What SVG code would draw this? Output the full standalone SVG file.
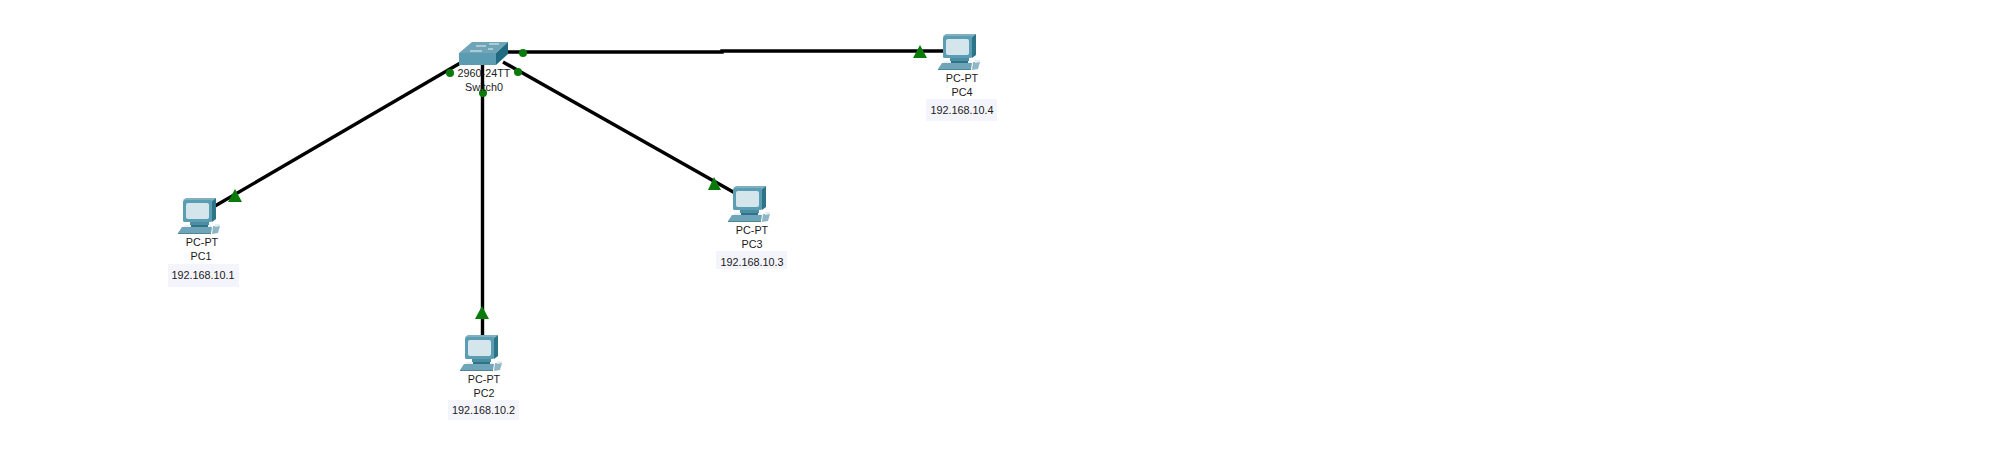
<svg xmlns="http://www.w3.org/2000/svg" width="2001" height="453" viewBox="0 0 2001 453">
<style>
text{font-family:"Liberation Sans",Arial,sans-serif;font-size:10.8px;fill:#1a1a1a;text-anchor:middle}
.link{stroke:#000;stroke-width:3.4;fill:none}
.dot{fill:#0a7a0a}
.tri{fill:#0a7a0a}
.ipbg{fill:#f4f4fc}
</style>
<defs>
<g id="pc">
<polygon points="-5,35 -1,29 29,29 28,35" fill="#6fa5b8"/>
<polygon points="-5,35 28,35 28,36 -5,36" fill="#4f8799"/>
<polygon points="1,27 28,27 28,29 1,29" fill="#e9f1f4"/>
<polygon points="7,23 26,23 26,27 7,27" fill="#4b8da3"/>
<polygon points="8,27 25,27 25,29 8,29" fill="#2f7388"/>
<polygon points="0,2 3,0 33,0 29,3" fill="#7fb0c0"/>
<polygon points="29,3 33,0 33,21 29,24" fill="#2e7489"/>
<rect x="0" y="2" width="29" height="22" rx="1.5" fill="#5b9db2"/>
<rect x="3" y="5" width="23" height="16" rx="2" fill="#d5e5ec"/>
<polygon points="30,28 37,28 35,35 29,36" fill="#8fb6c4"/>
<polygon points="32,26 37,26 37,28 32,29" fill="#e8eef0"/>
</g>
</defs>
<rect width="2001" height="453" fill="#fff"/>
<g id="connectors">
<line class="link" x1="462" y1="62" x2="215" y2="206"/>
<line class="link" x1="482.500" y1="60" x2="482.500" y2="336"/>
<line class="link" x1="503" y1="62" x2="735" y2="193"/>
<polyline class="link" points="505,52 722,52 722,51 945,51"/>
<circle class="dot" cx="450" cy="73" r="4"/>
<circle class="dot" cx="483" cy="93" r="4"/>
<circle class="dot" cx="518" cy="72" r="4"/>
<circle class="dot" cx="523" cy="53" r="4"/>
<polygon class="tri" points="235,189 228,202 242,202"/>
<polygon class="tri" points="482,306 475,319 489,319"/>
<polygon class="tri" points="714,177 708,190 721,190"/>
<polygon class="tri" points="920,45 913,58 927,58"/>
</g>
<g id="switch0">
<polygon points="459,53 472,42 508,42 496,53" fill="#6fa5b6"/>
<polygon points="496,53 508,42 508,54 496,65" fill="#1f6a80"/>
<rect x="459" y="53" width="37" height="12" fill="#5b9cb2"/>
<path d="M476,46h10M499,44h-10M470,51h12M493,49h-5" stroke="#e6f0f4" stroke-width="1" fill="none"/>
<text x="484" y="77">2960-24TT</text>
<text x="484" y="91">Switch0</text>
</g>
<g id="pc1">
<use href="#pc" x="183" y="198"/>
<text x="202" y="246">PC-PT</text>
<text x="201" y="260">PC1</text>
<rect class="ipbg" x="168" y="264" width="71" height="23"/>
<text x="203" y="279">192.168.10.1</text>
</g>
<g id="pc2">
<use href="#pc" x="465" y="335"/>
<text x="484" y="383">PC-PT</text>
<text x="484" y="397">PC2</text>
<rect class="ipbg" x="448" y="400" width="71" height="20"/>
<text x="483.500" y="414">192.168.10.2</text>
</g>
<g id="pc3">
<use href="#pc" x="733" y="186"/>
<text x="752" y="234">PC-PT</text>
<text x="752" y="248">PC3</text>
<rect class="ipbg" x="716" y="251" width="71" height="18"/>
<text x="752" y="266">192.168.10.3</text>
</g>
<g id="pc4">
<use href="#pc" x="943" y="34"/>
<text x="962" y="82">PC-PT</text>
<text x="962" y="96">PC4</text>
<rect class="ipbg" x="926" y="99" width="71" height="22"/>
<text x="962" y="114">192.168.10.4</text>
</g>
</svg>
